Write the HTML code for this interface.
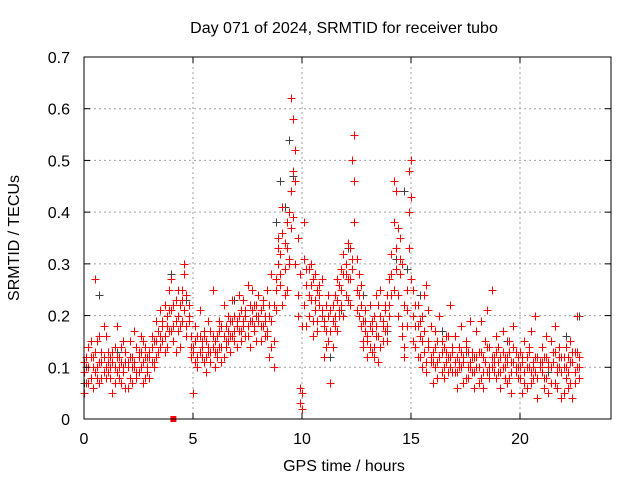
<!DOCTYPE html>
<html><head><meta charset="utf-8"><style>
body{margin:0;background:#fff}
svg{display:block;font-family:"Liberation Sans",sans-serif}
</style></head><body>
<svg id="chart" width="640" height="480" viewBox="0 0 640 480" xmlns="http://www.w3.org/2000/svg">
<rect width="640" height="480" fill="#fff"/>
<text x="344" y="33" font-size="16" text-anchor="middle" fill="#000">Day 071 of 2024, SRMTID for receiver tubo</text>
<text x="0" y="0" transform="translate(19,238) rotate(-90)" font-size="16" text-anchor="middle" fill="#000">SRMTID / TECUs</text>
<text x="344" y="471" font-size="16" text-anchor="middle" fill="#000">GPS time / hours</text>
<g id="grid"></g>
<g id="gray"></g>
<g id="red"></g>
<g id="axes"></g>
</svg>
<script>
const xTicks=[0,5,10,15,20];
const yTicks=[0,0.1,0.2,0.3,0.4,0.5,0.6,0.7];
const yTickLabels=["0","0.1","0.2","0.3","0.4","0.5","0.6","0.7"];
const startHour=0, stepHour=0.1;
const redA=[.09,.12,.07,.15,.10,.13,.08,.16,.11,.09,.10,.13,.08,.11,.14,.09,.12,.07,.10,.13,.11,.08,.12,.10,.14,.09,.13,.11,.08,.12,.13,.11,.15,.12,.17,.14,.18,.16,.20,.17,.21,.18,.23,.17,.22,.19,.28,.24,.20,.16,.13,.15,.12,.16,.14,.11,.15,.13,.17,.14,.13,.16,.14,.18,.12,.15,.17,.16,.19,.17,.18,.20,.17,.19,.21,.18,.22,.19,.17,.20,.19,.21,.18,.20,.17,.22,.19,.15,.27,.30,.32,.36,.29,.38,.40,.44,.39,.52,.35,.28,.02,.38,.26,.29,.23,.27,.21,.25,.22,.20,.18,.22,.15,.21,.19,.24,.17,.26,.22,.20,.30,.27,.33,.29,.55,.25,.28,.22,.19,.17,.15,.18,.13,.20,.16,.22,.14,.19,.17,.24,.27,.32,.46,.29,.37,.35,.30,.22,.18,.40,.50,.25,.18,.22,.16,.20,.13,.26,.15,.18,.13,.10,.15,.12,.09,.14,.11,.16,.10,.13,.11,.09,.14,.10,.12,.08,.13,.11,.09,.12,.10,.13,.08,.12,.11,.09,.14,.10,.12,.08,.09,.12,.10,.08,.11,.13,.09,.11,.10,.12,.08,.11,.09,.12,.10,.07,.11,.09,.12,.10,.09,.12,.08,.11,.10,.13,.07,.10,.12,.09,.10,.08,.12,.07,.11,.09,.13,.08];
const redB=[.05,.10,.14,.08,.12,.27,.10,.07,.13,.18,.16,.09,.12,.05,.10,.18,.08,.11,.15,.06,.06,.15,.10,.17,.08,.12,.16,.07,.14,.10,.08,.16,.10,.19,.13,.21,.15,.22,.14,.25,.27,.15,.19,.25,.14,.23,.30,.18,.22,.12,.05,.18,.10,.21,.12,.16,.09,.19,.11,.25,.10,.12,.19,.11,.22,.14,.20,.13,.23,.15,.14,.24,.15,.23,.16,.26,.14,.25,.22,.15,.24,.15,.23,.16,.25,.12,.28,.10,.21,.35,.26,.22,.34,.25,.31,.62,.58,.46,.24,.06,.05,.31,.18,.24,.30,.19,.28,.17,.24,.27,.12,.17,.20,.07,.14,.18,.27,.20,.29,.32,.24,.34,.22,.50,.38,.31,.20,.26,.15,.21,.12,.22,.17,.14,.24,.11,.25,.18,.21,.15,.20,.24,.38,.44,.24,.31,.16,.14,.21,.48,.43,.15,.22,.12,.19,.10,.24,.11,.21,.12,.07,.17,.11,.20,.13,.08,.16,.12,.22,.09,.16,.06,.11,.18,.07,.15,.10,.19,.13,.06,.17,.07,.19,.06,.15,.21,.08,.25,.11,.16,.14,.06,.17,.12,.07,.15,.05,.18,.13,.08,.13,.05,.15,.06,.14,.17,.08,.20,.04,.11,.14,.06,.16,.05,.15,.11,.18,.06,.14,.04,.05,.14,.06,.15,.04,.13,.20,.10];
const redC=[.11,.07,.10,.12,.06,.09,.15,.11,.08,.12,.08,.11,.10,.13,.07,.12,.10,.14,.09,.11,.10,.12,.07,.11,.09,.13,.10,.15,.12,.09,.12,.14,.11,.15,.13,.16,.19,.13,.18,.21,.17,.22,.13,.20,.18,.25,.21,.16,.19,.14,.14,.11,.16,.13,.15,.17,.12,.14,.13,.16,.15,.13,.17,.14,.16,.18,.15,.19,.16,.20,.19,.17,.21,.18,.20,.16,.19,.21,.18,.22,.20,.18,.22,.19,.16,.20,.14,.22,.25,.33,.28,.41,.24,.33,.30,.37,.48,.30,.20,.03,.18,.22,.29,.20,.26,.16,.23,.19,.26,.21,.19,.14,.24,.17,.22,.20,.23,.21,.25,.28,.28,.23,.27,.31,.46,.21,.24,.18,.14,.19,.16,.14,.19,.12,.18,.16,.20,.15,.22,.18,.22,.28,.25,.33,.20,.28,.18,.12,.25,.33,.27,.20,.14,.18,.12,.15,.17,.09,.14,.11,.11,.14,.08,.12,.15,.10,.13,.09,.12,.14,.09,.12,.10,.13,.11,.14,.08,.10,.12,.09,.12,.10,.13,.09,.11,.14,.10,.12,.09,.13,.11,.09,.13,.10,.12,.08,.11,.14,.09,.10,.10,.12,.07,.10,.13,.09,.10,.12,.08,.11,.11,.08,.12,.10,.07,.11,.13,.09,.10,.12,.12,.10,.09,.11,.13,.07,.10,.12];
const grayHours=[0.0,0.7,1.5,4.0,4.7,6.9,8.8,9.0,9.2,9.4,9.6,10.2,11.3,11.8,12.1,12.8,13.9,14.3,14.7,14.8,15.4,16.4,17.5,18.6,19.4,20.1,21.3,22.1,22.7];
const grayVals=[0.07,0.24,0.13,0.28,0.23,0.23,0.38,0.46,0.41,0.54,0.47,0.26,0.12,0.21,0.33,0.24,0.17,0.31,0.44,0.29,0.24,0.17,0.13,0.09,0.15,0.12,0.09,0.16,0.20];
const markerHour=[4.1], markerVal=[0];

const L=84,R=611,T=57,B=419,XMAX=(R-L)/21.8,YMAX=0.7;
const xs=h=>L+h/XMAX*(R-L);
const ys=v=>B-v/YMAX*(B-T);
const NS="http://www.w3.org/2000/svg";
function mk(tag,attrs,parent){const e=document.createElementNS(NS,tag);for(const k in attrs)e.setAttribute(k,attrs[k]);parent.appendChild(e);return e;}
const grid=document.getElementById('grid'),axes=document.getElementById('axes');
xTicks.forEach(t=>{
  const x=xs(t);
  if(t>0){const g=mk('line',{x1:x,x2:x,y1:T,y2:B,stroke:'#a0a0a0','stroke-dasharray':'2,3'},grid);
  
  }
  mk('line',{x1:x,x2:x,y1:B,y2:B-6,stroke:'#000'},axes);
  mk('line',{x1:x,x2:x,y1:T,y2:T+6,stroke:'#000'},axes);
  const tx=mk('text',{x:x,y:B+25,'font-size':16,'text-anchor':'middle',fill:'#000'},axes);
  tx.textContent=t;
  
  
});
yTicks.forEach((t,i)=>{
  const y=ys(t);
  if(t>0&&t<YMAX){const g=mk('line',{x1:L,x2:R,y1:y,y2:y,stroke:'#a0a0a0','stroke-dasharray':'2,3'},grid);
  
  }
  mk('line',{x1:L,x2:L+6,y1:y,y2:y,stroke:'#000'},axes);
  mk('line',{x1:R,x2:R-6,y1:y,y2:y,stroke:'#000'},axes);
  const tx=mk('text',{x:L-14,y:y+6,'font-size':16,'text-anchor':'end',fill:'#000'},axes);
  tx.textContent=yTickLabels[i];
  
  
});
const frame=mk('rect',{x:L,y:T,width:R-L,height:B-T,fill:'none',stroke:'#000'},axes);


function cross(g,h,v,col,name){
  const x=Math.round(xs(h))+0.5,y=Math.round(ys(v))+0.5;
  const p=mk('path',{d:`M${x-4} ${y}H${x+4}M${x} ${y-4}V${y+4}`,stroke:col,'stroke-width':1.3,fill:'none','shape-rendering':'crispEdges'},g);
  
  
}
const gg=document.getElementById('gray'),rg=document.getElementById('red');
grayHours.forEach((h,i)=>cross(gg,h,grayVals[i],'#404040','gray-point'));
[redA,redB,redC].forEach(arr=>arr.forEach((v,i)=>cross(rg,startHour+i*stepHour,v,'#ff0000','red-point')));
markerHour.forEach((h,i)=>{
  const m=mk('rect',{x:xs(h)-3,y:ys(markerVal[i])-3,width:6,height:6,fill:'#ff0000'},rg);
  
  
});
</script>
</body></html>
